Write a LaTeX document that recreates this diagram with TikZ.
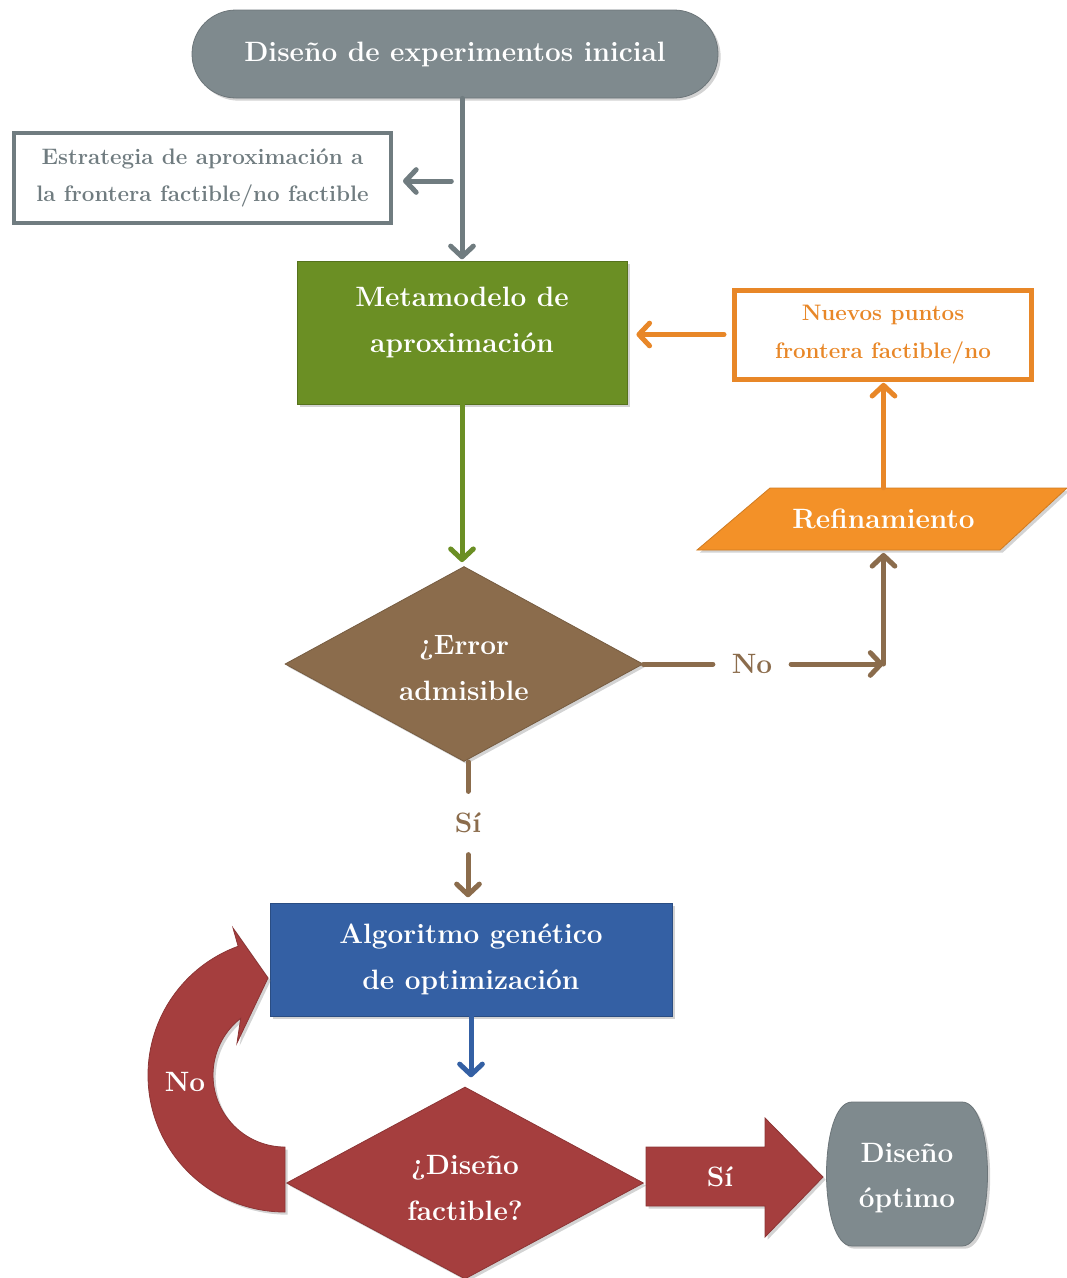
\documentclass[tikz,border=0pt]{standalone}
\usepackage{fontspec}
\usetikzlibrary{shapes.geometric,shapes.misc,arrows.meta,shadows,calc}
\definecolor{cgray}{RGB}{127,138,142}
\definecolor{cgrayd}{RGB}{112,124,128}
\definecolor{cgreen}{RGB}{107,143,36}
\definecolor{corange}{RGB}{243,145,40}
\definecolor{corangeline}{RGB}{232,135,40}
\definecolor{cbrown}{RGB}{139,108,76}
\definecolor{cblue}{RGB}{52,96,164}
\definecolor{cred}{RGB}{165,62,62}
\begin{document}
\begin{tikzpicture}[x=0.75pt,y=-0.75pt,
  bigfont/.style={font=\fontsize{21}{34}\selectfont\bfseries},
  smallfont/.style={font=\fontsize{16.8}{28}\selectfont\bfseries},
  shade/.style={drop shadow={opacity=0.35,shadow xshift=2pt,shadow yshift=-2pt}},
  textonly/.style={bigfont,text=white,align=center,inner sep=0pt},
  filledbox/.style={textonly,shade,line width=0.6pt},
  outlinebox/.style={smallfont,align=center,inner sep=0pt},
  plainline/.style={line width=3.75pt,line cap=round},
  link/.style={plainline,-{Straight Barb[length=8pt,width=17pt,round]}},
  edgelabel/.style={bigfont,text=cbrown}
]
\useasboundingbox (0,0) rectangle (1067,1278);

% nodes
\node[filledbox,rounded rectangle,fill=cgray,draw=cgray!85!black,
      minimum width=394.5pt,minimum height=66pt] (top) at (455,54)
      {Diseño de experimentos inicial};

\node[outlinebox,text=cgrayd,draw=cgrayd,line width=3pt,
      minimum width=282.75pt,minimum height=67.5pt] (estr) at (202.5,178)
      {Estrategia de aproximación a\\la frontera factible/no factible};

\node[filledbox,rectangle,fill=cgreen,draw=cgreen!80!black,
      minimum width=247.5pt,minimum height=107.25pt] (meta) at (462,332.5) {};
\node[textonly] (metatext) at ($(meta)+(0,-10)$) {Metamodelo de\\aproximación};

\node[outlinebox,text=corangeline,draw=corangeline,line width=3.75pt,
      minimum width=222.75pt,minimum height=66.75pt] (nuevos) at (883,334.5)
      {Nuevos puntos\\frontera factible/no};

\path[fill=corange,draw=corange!85!black,line width=0.6pt,shade]
      (697,550) -- (1000,550) -- (1067,488) -- (770,488) -- cycle;
\node[textonly,minimum width=225pt,minimum height=46.5pt] (refin) at (883.5,519)
      {Refinamiento};

\node[filledbox,diamond,aspect=1.84,fill=cbrown,draw=cbrown!85!black,
      minimum width=268.5pt,minimum height=146.25pt] (err) at (464,664) {};
\node[textonly] (errtext) at ($(err)+(0,4)$) {¿Error\\admisible};

\node[edgelabel,inner xsep=14pt,inner ysep=4pt] (no1) at (752,664) {No};
\node[edgelabel,inner xsep=4pt,inner ysep=16pt] (si1) at (468,823) {Sí};

\node[filledbox,rectangle,fill=cblue,draw=cblue!80!black,
      minimum width=301.5pt,minimum height=84.75pt] (algo) at (471,959.5)
      {Algoritmo genético\\de optimización};

\node[filledbox,diamond,aspect=1.86,fill=cred,draw=cred!85!black,
      minimum width=267.75pt,minimum height=144pt] (fact) at (465,1183) {};
\node[textonly] (facttext) at ($(fact)+(0,5)$) {¿Diseño\\factible?};

\path[fill=cgray,draw=cgray!85!black,line width=0.6pt,shade]
      (852,1102) -- (962,1102) .. controls (996,1102) and (996,1246) .. (962,1246)
      -- (852,1246) .. controls (818,1246) and (818,1102) .. (852,1102) -- cycle;
\node[textonly] (opt) at (907,1178) {Diseño\\óptimo};

% block arrow "Sí"
\path[fill=cred,draw=cred!85!black,line width=0.6pt,shade]
      (646,1147) -- (765,1147) -- (765,1118) -- (823,1177) -- (765,1237)
      -- (765,1206) -- (646,1206) -- cycle;
\node[textonly] (si2) at (720,1177) {Sí};

% curved arrow "No"
\path[fill=cred,draw=cred!85!black,line width=0.6pt,shade]
      (285,1212) arc[start angle=90,end angle=250,radius=137]
      -- (233,928) -- (268,978) -- (237,1043) -- (240.7,1018.3)
      arc[start angle=232,end angle=90,radius=72] -- cycle;
\node[textonly] (no2) at (185,1082) {No};

% connectors
\draw[link,cgrayd,shorten >=1pt] (top.south -| meta.north) -- (meta.north);
\coordinate (br) at (462,181);
\draw[link,cgrayd,shorten <=8pt,shorten >=7.5pt] (br) -- (br -| estr.east);

\draw[link,cgreen,shorten >=3pt] (meta.south) -- (meta.south |- err.north);

\draw[plainline,cbrown] (err.east) -- (no1.west);
\coordinate (k) at (refin.south |- err.east);
\draw[link,cbrown] (no1.east) -- (k);
\draw[link,cbrown,shorten >=2pt] (k) -- (refin.south);

\draw[link,corangeline,shorten >=1pt] (refin.north) -- (refin.north |- nuevos.south);
\draw[link,corangeline,shorten <=6pt,shorten >=6.75pt] (nuevos.west) -- (nuevos.west -| meta.east);

\draw[plainline,cbrown] (err.south -| si1) -- (si1.north);
\draw[link,cbrown,shorten >=4pt] (si1.south) -- (si1.south |- algo.north);

\draw[link,cblue,shorten >=7pt] (algo.south) -- (algo.south |- fact.north);
\end{tikzpicture}
\end{document}
